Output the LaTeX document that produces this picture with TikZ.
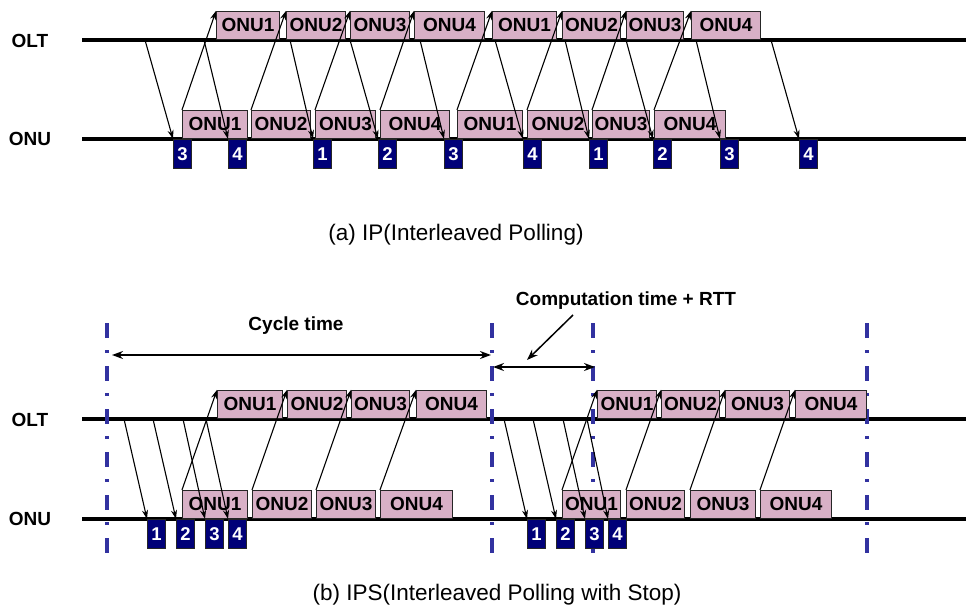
\documentclass[tikz,border=0pt]{standalone}
\usepackage{fontspec}
\setmainfont{Liberation Sans}
\usetikzlibrary{arrows.meta}
\definecolor{slotpink}{RGB}{216,176,198}
\definecolor{gatenavy}{RGB}{0,0,120}
\definecolor{markblue}{RGB}{50,50,160}
\begin{document}
\begin{tikzpicture}[x=1pt, y=-1pt,
  slot/.style={draw=black!85, fill=slotpink, line width=1.1pt, inner sep=0pt, anchor=south west, minimum height=28pt, font=\bfseries\fontsize{19}{19}\selectfont},
  gate/.style={draw=black!85, fill=gatenavy, text=white, line width=1.1pt, inner sep=0pt, anchor=north west, minimum width=18pt, minimum height=29pt, font=\bfseries\fontsize{18.5}{18.5}\selectfont},
  side/.style={font=\bfseries\fontsize{19}{19}\selectfont},
  caption/.style={font=\fontsize{22.5}{22.5}\selectfont},
  axis/.style={line width=3.2pt},
  msg/.style={-{Stealth[length=9pt,width=6pt]}, line width=1.1pt},
  span/.style={{Stealth[length=11pt,width=8pt]}-{Stealth[length=11pt,width=8pt]}, line width=1.5pt},
  marker/.style={draw=markblue, line width=3.2pt, dash pattern=on 15pt off 12pt on 3pt off 13pt}]
  \useasboundingbox (0,0) rectangle (966,613);

  \coordinate (a-olt-l) at (82,40);
  \coordinate (a-olt-r) at (966,40);
  \coordinate (a-onu-l) at (82,139);
  \coordinate (a-onu-r) at (966,139);
  \coordinate (b-olt-l) at (82,419);
  \coordinate (b-olt-r) at (966,419);
  \coordinate (b-onu-l) at (82,519);
  \coordinate (b-onu-r) at (966,519);
  \draw[axis] (a-olt-l) -- (a-olt-r);
  \draw[axis] (a-onu-l) -- (a-onu-r);
  \draw[axis] (b-olt-l) -- (b-olt-r);
  \draw[axis] (b-onu-l) -- (b-onu-r);

  \node[side] (a-olt) at (30,41) {OLT};
  \node[side] (a-onu) at (30,139) {ONU};
  \node[side] (b-olt) at (30,420) {OLT};
  \node[side] (b-onu) at (30,519) {ONU};

  \foreach \x [count=\i] in {107,492,593,867} {
    \coordinate (m\i-t) at (\x,323);
    \coordinate (m\i-b) at (\x,557);
    \draw[marker] (m\i-t) -- (m\i-b);
  }

  \foreach \n/\x/\w/\t in {1/216/63/ONU1, 2/286/59/ONU2, 3/350/59/ONU3, 4/414/70/ONU4, 5/492/64/ONU1, 6/562/58/ONU2, 7/626/57/ONU3, 8/691/69/ONU4}
    \node[slot, minimum width=\w pt] (a-up\n) at (\x,40) {\t};
  \foreach \n/\x/\w/\t in {1/182/65/ONU1, 2/251/59/ONU2, 3/315/60/ONU3, 4/380/69/ONU4, 5/457/65/ONU1, 6/527/61/ONU2, 7/592/57/ONU3, 8/654/71/ONU4}
    \node[slot, minimum width=\w pt] (a-dn\n) at (\x,139) {\t};
  \foreach \n/\x/\t in {1/173/3, 2/228/4, 3/313/1, 4/378/2, 5/444/3, 6/523/4, 7/589/1, 8/653/2, 9/720/3, 10/799/4}
    \node[gate] (a-g\n) at (\x,139) {\t};

  \foreach \n/\x in {1/145, 2/204, 3/290, 4/350, 5/420, 6/495, 7/565, 8/626, 9/696, 10/771} {
    \coordinate (a-s\n) at (\x,40);
    \draw[msg] (a-s\n) -- (a-g\n.north west);
  }
  \foreach \n in {1,...,8}
    \draw[msg] (a-dn\n.north west) -- (a-up\n.north west);

  \node[caption] (a-cap) at (456,235) {(a) IP(Interleaved Polling)};

  \foreach \n/\x/\w/\t in {1/217/65/ONU1, 2/287/59/ONU2, 3/351/58/ONU3, 4/416/70/ONU4, 5/597/59/ONU1, 6/661/58/ONU2, 7/725/64/ONU3, 8/795/71/ONU4}
    \node[slot, minimum width=\w pt] (b-up\n) at (\x,419) {\t};
  \foreach \n/\x/\w/\t in {1/182/65/ONU1, 2/252/59/ONU2, 3/316/59/ONU3, 4/380/72/ONU4, 5/562/58/ONU1, 6/626/58/ONU2, 7/690/65/ONU3, 8/760/71/ONU4}
    \node[slot, minimum width=\w pt] (b-dn\n) at (\x,519) {\t};
  \foreach \n/\x/\t in {1/147/1, 2/176/2, 3/205/3, 4/228/4, 5/527/1, 6/556/2, 7/585/3, 8/608/4}
    \node[gate] (b-g\n) at (\x,519) {\t};

  \foreach \n/\x in {1/124, 2/153, 3/183, 4/206, 5/504, 6/533, 7/563, 8/587} {
    \coordinate (b-s\n) at (\x,419);
    \draw[msg] (b-s\n) -- (b-g\n.north west);
  }
  \foreach \n in {1,...,8}
    \draw[msg] (b-dn\n.north west) -- (b-up\n.north west);

  \node[side] (cyc) at (296,326) {Cycle time};
  \coordinate (cyc-l) at (112,355);
  \coordinate (cyc-r) at (491,355);
  \draw[span] (cyc-l) -- (cyc-r);

  \node[side] (comp) at (626,301) {Computation time + RTT};
  \coordinate (comp-l) at (493,367);
  \coordinate (comp-r) at (595,367);
  \coordinate (comp-p) at (573,315);
  \coordinate (comp-q) at (527,360);
  \draw[span] (comp-l) -- (comp-r);
  \draw[-{Stealth[length=11pt,width=8pt]}, line width=1.5pt] (comp-p) -- (comp-q);

  \node[caption] (b-cap) at (497,595) {(b) IPS(Interleaved Polling with Stop)};
\end{tikzpicture}
\end{document}
